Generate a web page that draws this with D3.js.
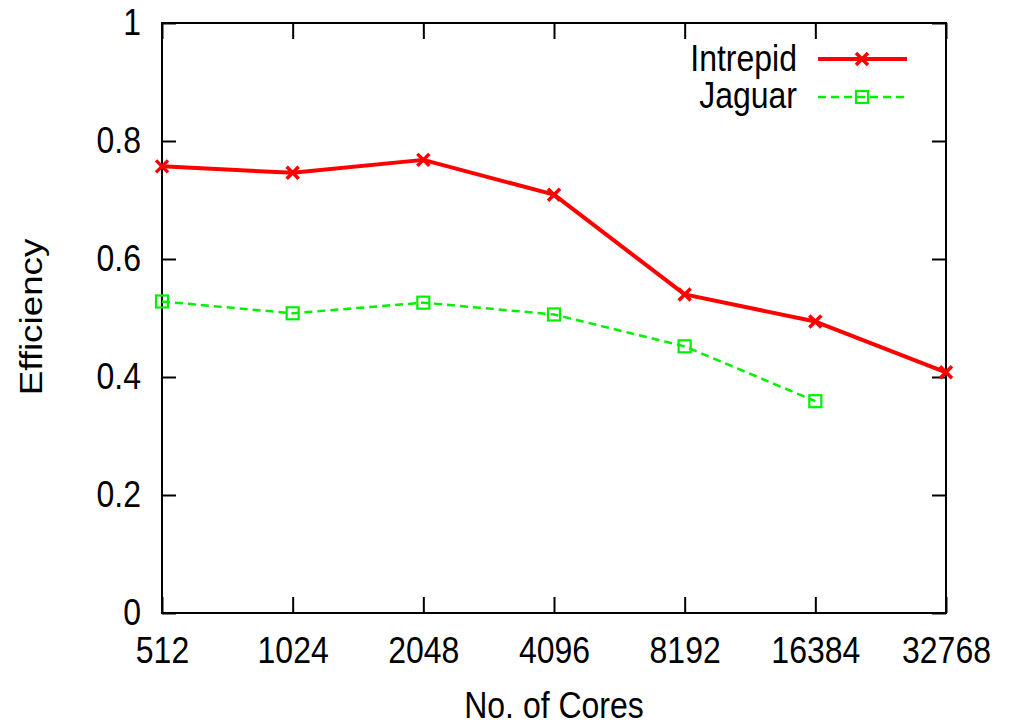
<!DOCTYPE html>
<html>
<head>
<meta charset="utf-8">
<script src="https://cdn.jsdelivr.net/npm/d3@7"></script>
<style>
  body { margin: 0; background: #fff; }
  svg text { font-family: "Liberation Sans", Arial, Helvetica, sans-serif; fill: #000; }
</style>
</head>
<body>
<svg id="chart"></svg>
<script>
const width = 1013;
const height = 726;
const margin = { top: 23, right: 67, bottom: 113, left: 162 };
const stretch = 1.15; // the source picture is a bit taller than wide

const cores = [512, 1024, 2048, 4096, 8192, 16384, 32768];
const intrepid = [0.757, 0.746, 0.768, 0.709, 0.540, 0.494, 0.408];
const jaguar = [0.528, 0.508, 0.526, 0.506, 0.452, 0.359];
const yTicks = [0, 0.2, 0.4, 0.6, 0.8, 1];

const svg = d3.select('#chart')
    .attr('width', width)
    .attr('height', height);

const x = d3.scaleLog().base(2)
    .domain([512, 32768])
    .range([margin.left, width - margin.right]);

const y = d3.scaleLinear()
    .domain([0, 1])
    .range([height - margin.bottom, margin.top]);

// frame
svg.append('rect')
    .attr('x', x.range()[0])
    .attr('y', y.range()[1])
    .attr('width', x.range()[1] - x.range()[0])
    .attr('height', y.range()[0] - y.range()[1])
    .attr('fill', 'none')
    .attr('stroke', '#000')
    .attr('stroke-width', 2);

// inward ticks, mirrored on top and right
const xAxisB = d3.axisBottom(x).tickValues(cores).tickSize(-16).tickFormat(d => d).tickPadding(26);
const xAxisT = d3.axisTop(x).tickValues(cores).tickSize(-16).tickFormat('');
const yAxisL = d3.axisLeft(y).tickValues(yTicks).tickSize(-14).tickFormat(d3.format('')).tickPadding(21);
const yAxisR = d3.axisRight(y).tickValues(yTicks).tickSize(-14).tickFormat('');

function styleAxis(g, cy) {
    g.select('.domain').remove();
    g.selectAll('line').attr('stroke', '#000').attr('stroke-width', 2);
    g.selectAll('text')
        .style('font-family', '"Liberation Sans", Arial, sans-serif')
        .style('font-size', '32px')
        .attr('fill', '#000')
        .attr('transform', `translate(0,${cy}) scale(1,${stretch}) translate(0,${-cy})`);
}

svg.append('g')
    .attr('transform', `translate(0,${y(0)})`)
    .call(xAxisB).call(styleAxis, 37);
svg.append('g')
    .attr('transform', `translate(0,${y(1)})`)
    .call(xAxisT).call(styleAxis, 0);
svg.append('g')
    .attr('transform', `translate(${x(512)},0)`)
    .call(yAxisL).call(styleAxis, 0);
svg.append('g')
    .attr('transform', `translate(${x(32768)},0)`)
    .call(yAxisR).call(styleAxis, 0);

function label(px, py, txt, anchor, rotate) {
    const g = svg.append('g')
        .attr('transform', `translate(${px},${py})` + (rotate ? ' rotate(-90)' : ''));
    g.append('text')
        .attr('text-anchor', anchor)
        .attr('transform', rotate ? `scale(${stretch},1)` : `scale(1,${stretch})`)
        .style('font-size', '32px')
        .text(txt);
}

// axis titles
label((x.range()[0] + x.range()[1]) / 2, 718, 'No. of Cores', 'middle', false);
label(42, 317, 'Efficiency', 'middle', true);

// series
const line = d3.line()
    .x((d, i) => x(cores[i]))
    .y(d => y(d));

svg.append('path')
    .datum(intrepid)
    .attr('d', line)
    .attr('fill', 'none')
    .attr('stroke', '#ff0000')
    .attr('stroke-width', 4)
    .attr('stroke-linejoin', 'round');

svg.append('path')
    .datum(jaguar)
    .attr('d', line)
    .attr('fill', 'none')
    .attr('stroke', '#00f000')
    .attr('stroke-width', 2.5)
    .attr('stroke-dasharray', '8,5');

function cross(g, cx, cy) {
    const s = 6;
    g.append('path')
        .attr('d', `M${cx - s},${cy - s}L${cx + s},${cy + s}M${cx - s},${cy + s}L${cx + s},${cy - s}`)
        .attr('stroke', '#ff0000')
        .attr('stroke-width', 3.5)
        .attr('fill', 'none');
}

function square(g, cx, cy) {
    g.append('rect')
        .attr('x', cx - 6)
        .attr('y', cy - 6)
        .attr('width', 12)
        .attr('height', 12)
        .attr('fill', 'none')
        .attr('stroke', '#00f000')
        .attr('stroke-width', 2.2);
}

const marks = svg.append('g');
intrepid.forEach((v, i) => cross(marks, x(cores[i]), y(v)));
jaguar.forEach((v, i) => square(marks, x(cores[i]), y(v)));

// legend
label(797, 71, 'Intrepid', 'end', false);
svg.append('line')
    .attr('x1', 818).attr('x2', 907).attr('y1', 59).attr('y2', 59)
    .attr('stroke', '#ff0000').attr('stroke-width', 4);
cross(svg, 862, 59);

label(797, 108, 'Jaguar', 'end', false);
svg.append('line')
    .attr('x1', 818).attr('x2', 907).attr('y1', 97).attr('y2', 97)
    .attr('stroke', '#00f000').attr('stroke-width', 2.5)
    .attr('stroke-dasharray', '8,5');
square(svg, 862, 97);
</script>
</body>
</html>
